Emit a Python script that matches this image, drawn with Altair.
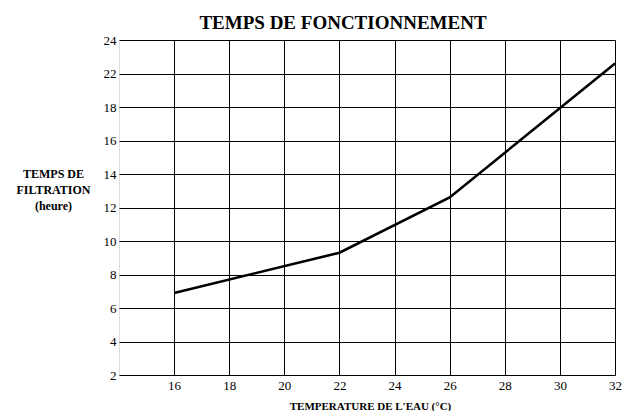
import altair as alt
import pandas as pd

# Data
temperature = [16, 22, 26, 32]
hours = [6.9, 9.3, 12.6, 22.6]

x_ticks = [16, 18, 20, 22, 24, 26, 28, 30, 32]
y_ticks = [2, 4, 6, 8, 10, 12, 14, 16, 18, 22, 24]

df = pd.DataFrame({"temp": temperature, "hours": hours})

W, H = 496, 335
step = H / 10.0
FONT = "Liberation Serif, Times New Roman, Times, serif"

line = alt.Chart(df).mark_line(color="black", strokeWidth=2.6, clip=False).encode(
    x=alt.X(
        "temp:Q",
        scale=alt.Scale(domain=[14, 32], nice=False, zero=False),
        axis=alt.Axis(
            values=x_ticks,
            grid=True,
            gridColor="black",
            gridWidth=1,
            gridOpacity=1,
            domain=False,
            ticks=False,
            labelFont=FONT,
            labelFontSize=13,
            labelColor="black",
            labelPadding=4,
            labelFlush=False,
            title="TEMPERATURE DE L'EAU (°C)",
            titleFont=FONT,
            titleFontSize=11,
            titleFontWeight="bold",
            titleColor="black",
            titleX=251,
            titleY=34,
            titleAlign="center",
            titleBaseline="alphabetic",
        ),
    ),
    y=alt.Y(
        "hours:Q",
        scale=alt.Scale(domain=[2, 18, 22, 24], range=[H, 2 * step, step, 0], nice=False, zero=False),
        axis=alt.Axis(
            values=y_ticks,
            grid=True,
            gridColor="black",
            gridWidth=1,
            gridOpacity=1,
            domain=False,
            ticks=False,
            labelFont=FONT,
            labelFontSize=13,
            labelColor="black",
            labelPadding=3,
            labelBaseline="middle",
            title=["TEMPS DE", "FILTRATION", "(heure)"],
            titleFont=FONT,
            titleFontSize=12,
            titleFontWeight="bold",
            titleColor="black",
            titleAngle=0,
            titleAlign="center",
            titleBaseline="alphabetic",
            titleLineHeight=16.3,
            titleX=-66,
            titleY=137,
        ),
    ),
)

chart = line.properties(
    width=W,
    height=H,
    title=alt.TitleParams(
        text="TEMPS DE FONCTIONNEMENT",
        font=FONT,
        fontSize=19,
        fontWeight="bold",
        color="black",
        anchor="middle",
        dx=-24,
        dy=22,
        baseline="alphabetic",
        offset=8,
    ),
    autosize=alt.AutoSizeParams(type="none"),
    padding={"left": 111, "top": 32, "right": 7, "bottom": 36},
).configure_view(
    stroke="black",
    strokeWidth=4,
).configure(
    background="white",
)

chart.save("out.html", embed_options={"renderer": "svg", "actions": False})
